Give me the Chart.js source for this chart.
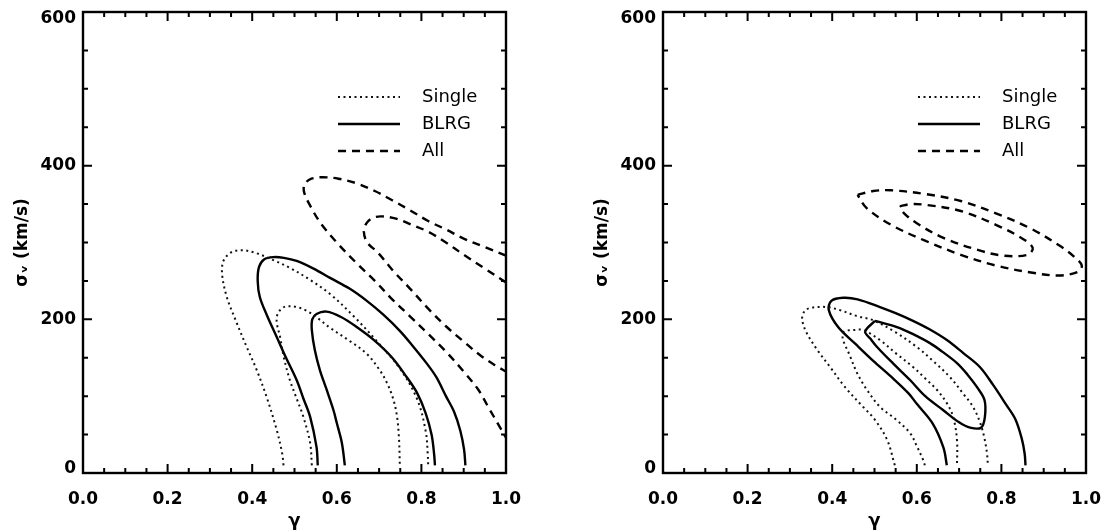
<!DOCTYPE html>
<html>
<head>
<meta charset="utf-8">
<script src="https://cdn.jsdelivr.net/npm/chart.js@4.4.0/dist/chart.umd.min.js"></script>
<style>
  html, body { margin: 0; padding: 0; background: #fff; overflow: hidden; }
  #wrap { position: relative; width: 1107px; height: 532px; }
  canvas { position: absolute; top: 0; display: block; }
</style>
</head>
<body>
<div id="wrap">
  <canvas id="left" width="553" height="532" style="left:0;width:553px;height:532px"></canvas>
  <canvas id="right" width="527" height="532" style="left:580px;width:527px;height:532px"></canvas>
</div>
<script>
// contour lines, [gamma, sigma_v] pairs
var leftSingleOuter = [[0.474,10],[0.471,25],[0.458,56],[0.434,99],[0.410,135],[0.387,164],[0.360,200],[0.340,229],[0.329,258],[0.332,276],[0.350,287],[0.376,290],[0.410,286],[0.450,277],[0.489,267],[0.535,252],[0.584,233],[0.640,204],[0.694,172],[0.749,136],[0.790,96],[0.810,55],[0.815,25],[0.816,10]];
var leftSingleInner = [[0.541,10],[0.537,39],[0.521,73],[0.505,97],[0.489,121],[0.475,150],[0.466,177],[0.458,196],[0.460,207],[0.470,214],[0.481,217],[0.505,216],[0.529,211],[0.556,201],[0.584,189],[0.630,172],[0.671,155],[0.700,135],[0.718,118],[0.733,97],[0.742,75],[0.747,45],[0.749,10]];
var leftBlrgOuter = [[0.555,10],[0.552,34],[0.537,73],[0.521,97],[0.505,121],[0.480,150],[0.458,177],[0.435,205],[0.418,229],[0.413,250],[0.416,268],[0.428,278],[0.450,281],[0.475,280],[0.505,276],[0.545,266],[0.584,254],[0.630,240],[0.671,224],[0.710,206],[0.749,185],[0.780,165],[0.812,143],[0.835,125],[0.858,100],[0.877,80],[0.892,55],[0.901,30],[0.904,10]];
var leftBlrgInner = [[0.619,10],[0.612,39],[0.600,65],[0.592,82],[0.575,110],[0.560,134],[0.548,160],[0.541,186],[0.542,200],[0.552,207],[0.576,210],[0.610,203],[0.647,190],[0.690,172],[0.731,150],[0.765,125],[0.790,104],[0.810,78],[0.824,50],[0.830,25],[0.832,10]];
var leftAllOuter = [[1.0,283],[0.95,294],[0.9,305],[0.858,317],[0.816,328],[0.773,342],[0.731,355],[0.690,367],[0.647,377],[0.604,383],[0.566,385],[0.540,383],[0.524,376],[0.523,365],[0.540,345],[0.562,325],[0.600,300],[0.647,273],[0.690,250],[0.731,226],[0.773,204],[0.816,181],[0.858,158],[0.9,132],[0.935,108],[0.960,84],[0.980,65],[1.0,46]];
var leftAllInner = [[1.0,248],[0.95,266],[0.9,284],[0.858,300],[0.816,314],[0.773,324],[0.740,331],[0.706,334],[0.685,332],[0.670,325],[0.664,314],[0.672,300],[0.697,287],[0.735,262],[0.773,240],[0.816,214],[0.858,191],[0.9,171],[0.942,152],[0.975,140],[1.0,132]];

var rightSingleOuter = [[0.548,10],[0.530,43],[0.500,70],[0.473,86],[0.430,112],[0.395,138],[0.365,160],[0.340,182],[0.329,200],[0.335,211],[0.350,215],[0.387,216],[0.418,212],[0.460,204],[0.496,199],[0.550,183],[0.600,164],[0.640,145],[0.678,125],[0.710,103],[0.733,86],[0.750,65],[0.760,45],[0.766,25],[0.768,10]];
var rightSingleInner = [[0.619,10],[0.615,17],[0.600,35],[0.584,52],[0.550,70],[0.513,86],[0.480,110],[0.459,130],[0.440,155],[0.425,175],[0.428,184],[0.450,186],[0.473,186],[0.513,173],[0.550,156],[0.591,138],[0.620,123],[0.648,108],[0.672,90],[0.686,73],[0.695,43],[0.695,10]];
var rightBlrgOuter = [[0.671,10],[0.663,33],[0.638,64],[0.600,90],[0.580,104],[0.540,125],[0.497,146],[0.455,168],[0.414,190],[0.392,212],[0.398,224],[0.426,228],[0.460,226],[0.513,216],[0.550,208],[0.591,198],[0.630,187],[0.671,173],[0.710,156],[0.749,138],[0.780,115],[0.810,90],[0.833,70],[0.848,45],[0.855,25],[0.857,10]];
var rightBlrgInner = [[0.501,198],[0.478,184],[0.490,175],[0.506,164],[0.545,142],[0.584,121],[0.620,100],[0.662,82],[0.700,66],[0.726,59],[0.752,59],[0.761,73],[0.760,95],[0.742,112],[0.720,128],[0.695,143],[0.660,158],[0.631,169],[0.590,181],[0.553,190],[0.501,198]];
var rightAllOuter = [[0.460,362],[0.497,367],[0.539,368],[0.621,363],[0.704,354],[0.787,338],[0.870,318],[0.940,295],[0.975,280],[0.990,270],[0.982,262],[0.936,257],[0.870,261],[0.787,270],[0.704,284],[0.621,302],[0.539,323],[0.481,345],[0.460,362]];
var rightAllInner = [[0.560,347],[0.585,350],[0.621,349],[0.704,341],[0.787,323],[0.850,305],[0.874,293],[0.862,284],[0.804,283],[0.746,290],[0.663,306],[0.600,325],[0.570,338],[0.560,347]];

var xTicks = [0, 0.2, 0.4, 0.6, 0.8, 1.0];
var yTicks = [0, 200, 400, 600];
var legendNames = ['Single', 'BLRG', 'All'];

var styles = {
  Single: { dash: [2, 3.5], width: 2, color: '#111' },
  BLRG:   { dash: [],       width: 2.4, color: '#000' },
  All:    { dash: [8, 6],   width: 2.4, color: '#000' }
};

function line(pts, kind) {
  var s = styles[kind];
  return {
    data: pts.map(function (p) { return { x: p[0], y: p[1] }; }),
    showLine: true,
    pointRadius: 0,
    borderColor: s.color,
    borderWidth: s.width,
    borderDash: s.dash,
    tension: 0.35,
    fill: false
  };
}

// frame with inward ticks on all four sides, y labels, and the line key
var frame = {
  id: 'frame',
  afterDraw: function (chart) {
    var ctx = chart.ctx, a = chart.chartArea;
    var xs = chart.scales.x, ys = chart.scales.y;
    ctx.save();
    ctx.strokeStyle = '#000';
    ctx.lineWidth = 2.4;
    ctx.strokeRect(a.left, a.top, a.right - a.left, a.bottom - a.top);
    ctx.lineWidth = 2;
    ctx.beginPath();
    for (var i = 0; i <= 20; i++) {
      var px = xs.getPixelForValue(i * 0.05);
      var len = (i % 4 === 0) ? 9 : 5;
      ctx.moveTo(px, a.bottom); ctx.lineTo(px, a.bottom - len);
      ctx.moveTo(px, a.top); ctx.lineTo(px, a.top + len);
    }
    for (var j = 0; j <= 12; j++) {
      var py = ys.getPixelForValue(j * 50);
      var l2 = (j % 4 === 0) ? 9 : 5;
      ctx.moveTo(a.left, py); ctx.lineTo(a.left + l2, py);
      ctx.moveTo(a.right, py); ctx.lineTo(a.right - l2, py);
    }
    ctx.stroke();

    // y labels, end ones pulled inside the frame height
    ctx.font = 'bold 17px "DejaVu Sans"';
    ctx.fillStyle = '#000';
    ctx.textAlign = 'right';
    ctx.textBaseline = 'middle';
    yTicks.forEach(function (v) {
      var ty = Math.min(Math.max(ys.getPixelForValue(v), a.top + 7), a.bottom - 4);
      ctx.fillText(String(v), a.left - 7, ty);
    });

    // key
    ctx.font = '18px "DejaVu Sans"';
    ctx.textAlign = 'left';
    legendNames.forEach(function (name, k) {
      var s = styles[name];
      var y = a.top + 85 + k * 27;
      ctx.beginPath();
      ctx.strokeStyle = s.color;
      ctx.lineWidth = s.width;
      ctx.setLineDash(s.dash);
      ctx.moveTo(a.left + 255, y);
      ctx.lineTo(a.left + 317, y);
      ctx.stroke();
      ctx.setLineDash([]);
      ctx.fillText(name, a.left + 339, y);
    });
    ctx.restore();
  }
};

function makePanel(id, sets, padRight) {
  new Chart(document.getElementById(id), {
    type: 'scatter',
    data: { datasets: sets },
    options: {
      responsive: false,
      animation: false,
      layout: { padding: { top: 12, right: padRight, left: 0, bottom: 0 } },
      plugins: { legend: { display: false }, tooltip: { enabled: false } },
      scales: {
        x: {
          type: 'linear', min: 0, max: 1,
          afterBuildTicks: function (s) { s.ticks = xTicks.map(function (v) { return { value: v }; }); },
          afterFit: function (s) { s.height = 59; s.paddingLeft = 0; s.paddingRight = 0; },
          grid: { display: false, drawTicks: false },
          border: { display: false },
          ticks: {
            color: '#000', padding: 16,
            font: { family: 'DejaVu Sans', size: 17, weight: 'bold' },
            callback: function (v) { return v.toFixed(1); }
          },
          title: {
            display: true, text: 'γ', color: '#000',
            font: { family: 'DejaVu Sans', size: 18, weight: 'bold' },
            padding: { top: 0, bottom: 0 }
          }
        },
        y: {
          type: 'linear', min: 0, max: 600,
          afterBuildTicks: function (s) { s.ticks = yTicks.map(function (v) { return { value: v }; }); },
          afterFit: function (s) { s.width = 83; s.paddingTop = 0; s.paddingBottom = 0; },
          grid: { display: false, drawTicks: false },
          border: { display: false },
          ticks: { display: false },
          title: {
            display: true, text: 'σᵥ (km/s)', color: '#000',
            font: { family: 'DejaVu Sans', size: 17, weight: 'bold' },
            padding: { top: 12, bottom: 0 }
          }
        }
      }
    },
    plugins: [frame]
  });
}

makePanel('left', [
  line(leftSingleOuter, 'Single'), line(leftSingleInner, 'Single'),
  line(leftBlrgOuter, 'BLRG'), line(leftBlrgInner, 'BLRG'),
  line(leftAllOuter, 'All'), line(leftAllInner, 'All')
], 47);

makePanel('right', [
  line(rightSingleOuter, 'Single'), line(rightSingleInner, 'Single'),
  line(rightBlrgOuter, 'BLRG'), line(rightBlrgInner, 'BLRG'),
  line(rightAllOuter, 'All'), line(rightAllInner, 'All')
], 21);
</script>
</body>
</html>
